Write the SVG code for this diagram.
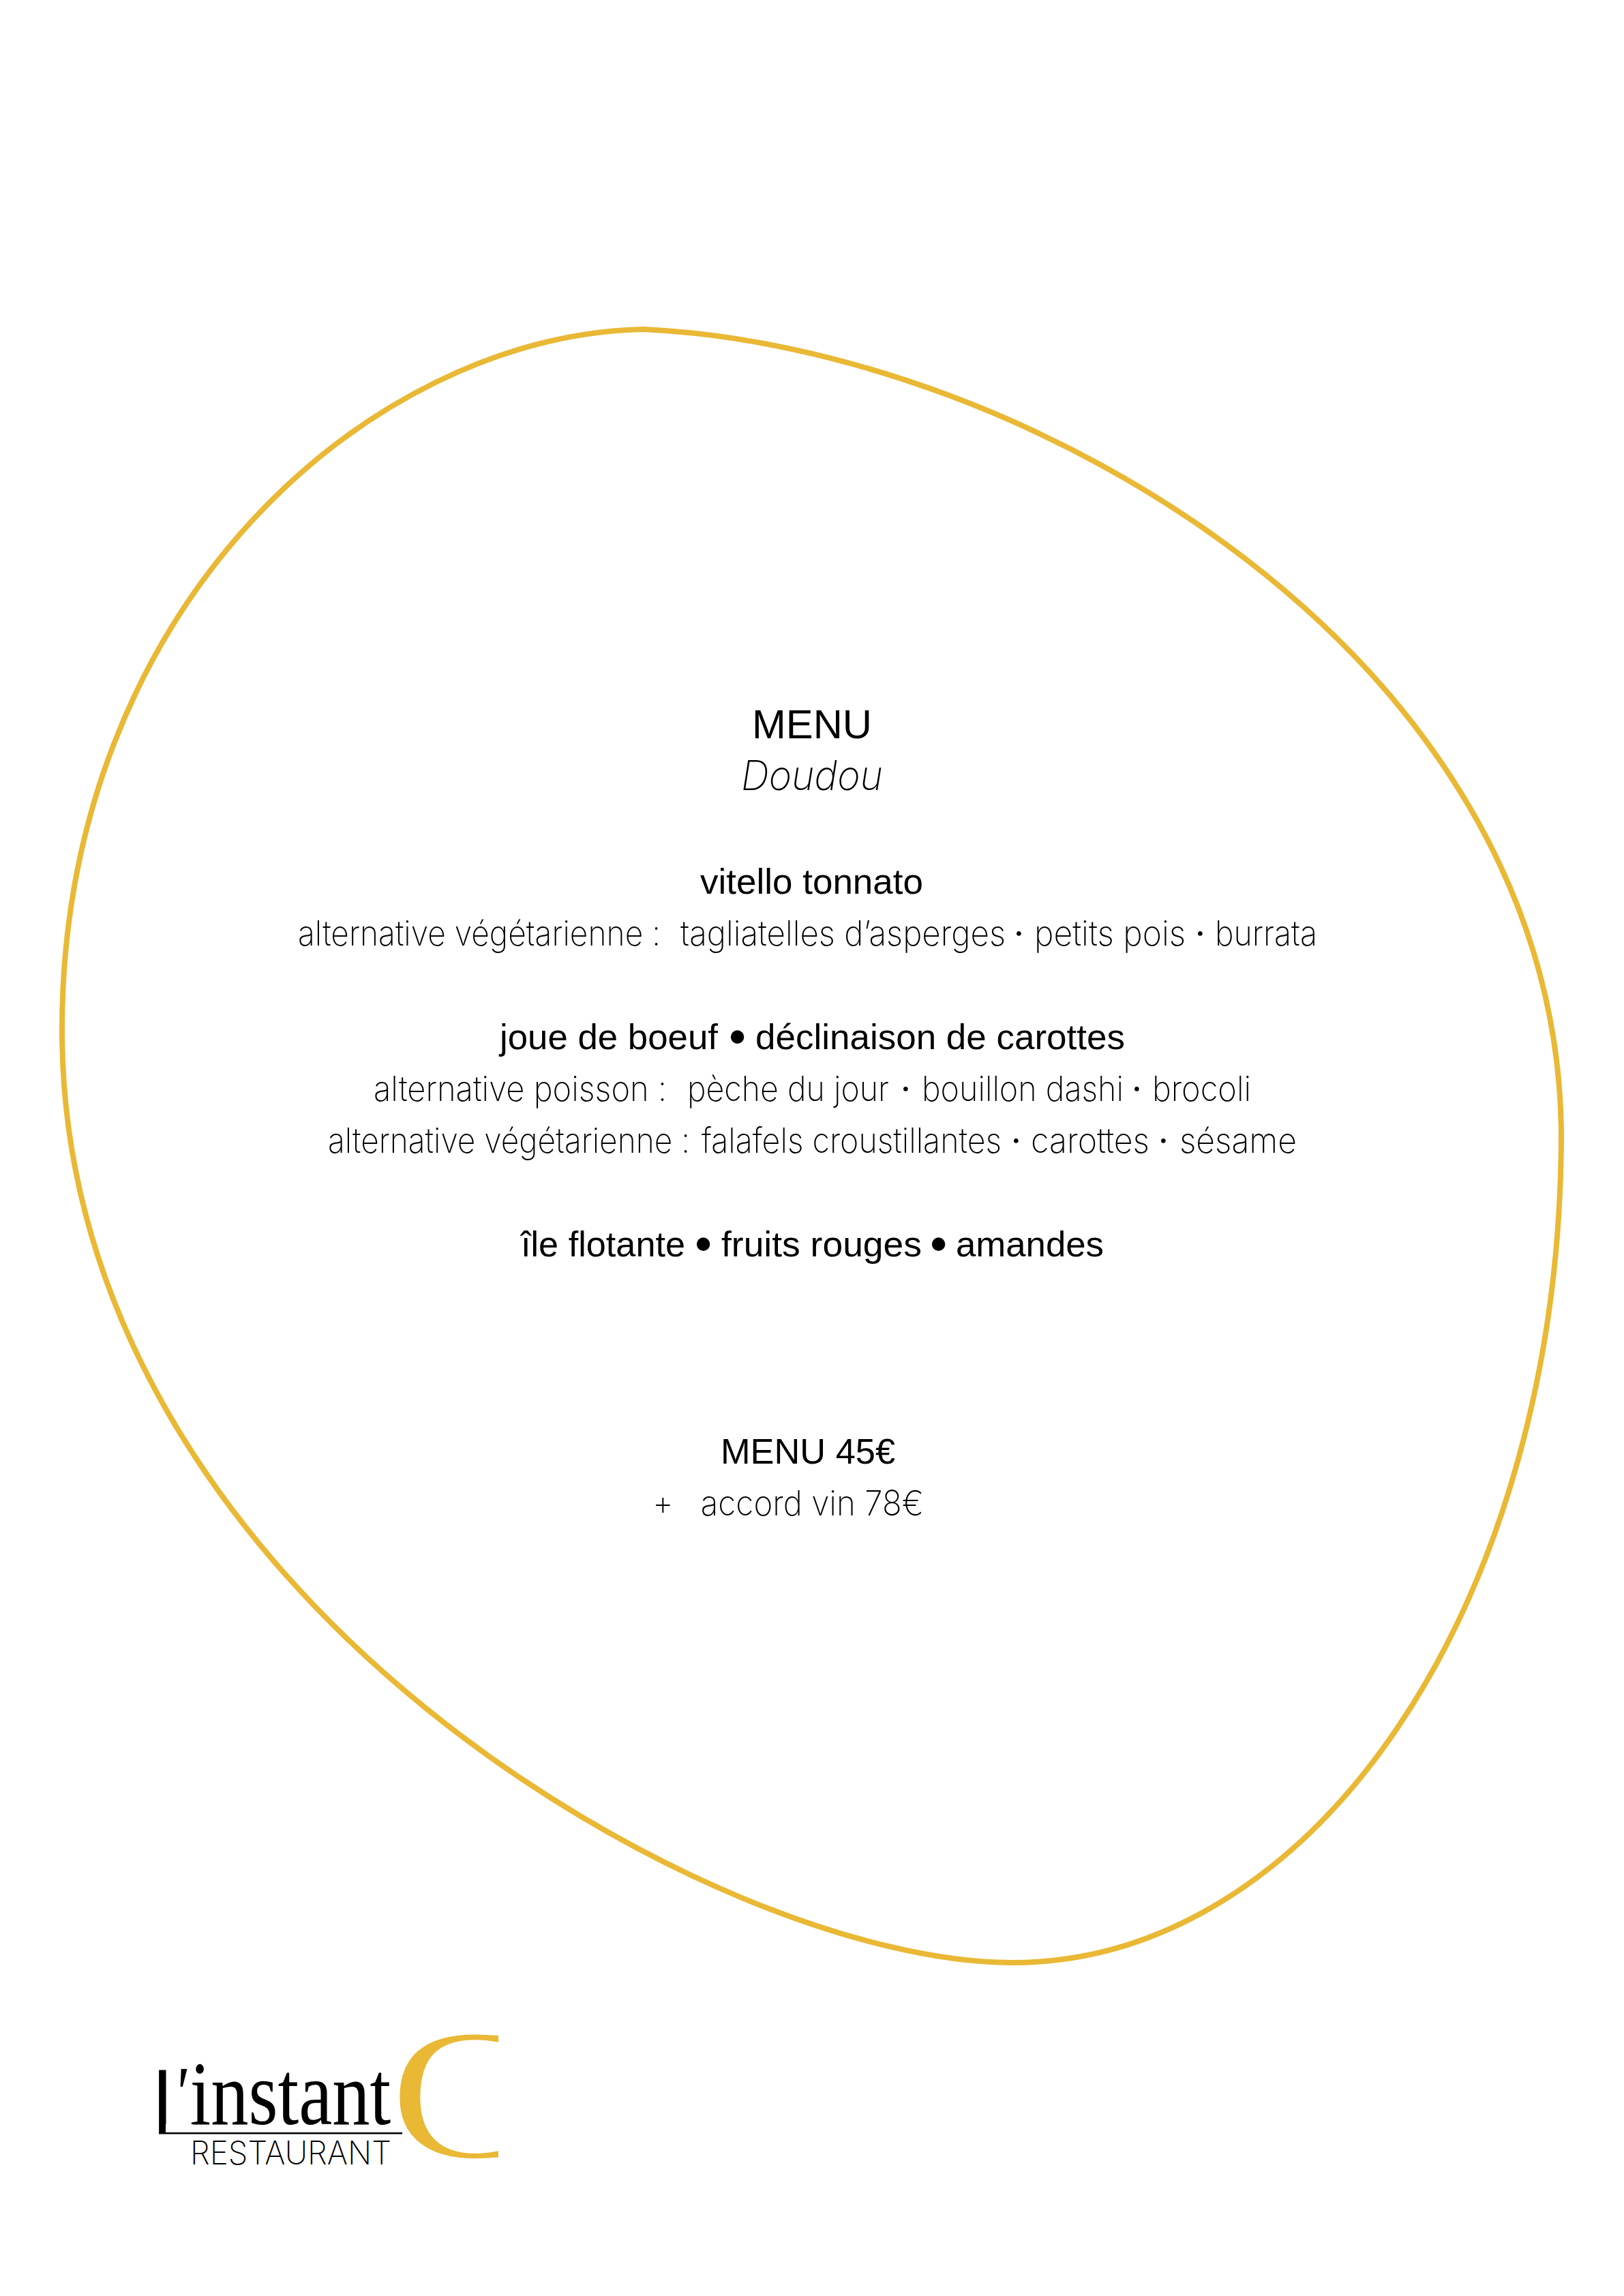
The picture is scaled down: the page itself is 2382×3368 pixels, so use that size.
<svg xmlns="http://www.w3.org/2000/svg" width="2382" height="3368" viewBox="0 0 2382 3368">
<style>
text{fill:#000;white-space:pre}
.r{font-family:"Liberation Sans",Arial,sans-serif;font-size:52px}
.l{font-family:Inter,"Liberation Sans",sans-serif;font-weight:200;font-size:51px}
.b{font-size:72px}
.d{font-weight:400}
.gold{stroke:#e9b835;stroke-width:8;fill:none}
</style>
<defs><clipPath id="cclip"><rect x="570" y="2970" width="161" height="210"/></clipPath></defs>
<rect width="2382" height="3368" fill="#fff"/>
<g id="blob"><path class="gold" d="M944 483C1509 510 2282 960 2290 1660C2290 2350 1929 2879 1484 2879C1050 2879 91 2340 91 1511C91 891 540 492 944 483Z"/></g>
<g id="menu-text">
<text class="r" x="1103" y="1083" style="font-size:60px" textLength="176" lengthAdjust="spacingAndGlyphs">MENU</text>
<text class="l" x="1087" y="1159" style="font-size:60px;font-style:italic" textLength="208" lengthAdjust="spacingAndGlyphs">Doudou</text>
<text class="r" x="1027" y="1311" textLength="327" lengthAdjust="spacingAndGlyphs">vitello tonnato</text>
<text class="l" y="1387"><tspan x="437" textLength="532" lengthAdjust="spacingAndGlyphs">alternative végétarienne :</tspan>  <tspan x="998" textLength="477" lengthAdjust="spacingAndGlyphs">tagliatelles d’asperges</tspan> <tspan class="d" x="1487">·</tspan> <tspan x="1517" textLength="222" lengthAdjust="spacingAndGlyphs">petits pois</tspan> <tspan class="d" x="1753">·</tspan> <tspan x="1782" textLength="150" lengthAdjust="spacingAndGlyphs">burrata</tspan></text>
<text class="r" y="1539"><tspan x="733" textLength="320" lengthAdjust="spacingAndGlyphs">joue de boeuf</tspan> <tspan class="b" x="1069" dy="6">•</tspan> <tspan x="1108" dy="-6" textLength="542" lengthAdjust="spacingAndGlyphs">déclinaison de carottes</tspan></text>
<text class="l" y="1615"><tspan x="548" textLength="430" lengthAdjust="spacingAndGlyphs">alternative poisson :</tspan>  <tspan x="1008" textLength="296" lengthAdjust="spacingAndGlyphs">pèche du jour</tspan> <tspan class="d" x="1321">·</tspan> <tspan x="1352" textLength="296" lengthAdjust="spacingAndGlyphs">bouillon dashi</tspan> <tspan class="d" x="1660">·</tspan> <tspan x="1690" textLength="145" lengthAdjust="spacingAndGlyphs">brocoli</tspan></text>
<text class="l" y="1691"><tspan x="481" textLength="531" lengthAdjust="spacingAndGlyphs">alternative végétarienne :</tspan> <tspan x="1029" textLength="440" lengthAdjust="spacingAndGlyphs">falafels croustillantes</tspan> <tspan class="d" x="1483">·</tspan> <tspan x="1512" textLength="174" lengthAdjust="spacingAndGlyphs">carottes</tspan> <tspan class="d" x="1699">·</tspan> <tspan x="1730" textLength="172" lengthAdjust="spacingAndGlyphs">sésame</tspan></text>
<text class="r" y="1843"><tspan x="764" textLength="241" lengthAdjust="spacingAndGlyphs">île flotante</tspan> <tspan class="b" x="1019" dy="6">•</tspan> <tspan x="1058" dy="-6" textLength="294" lengthAdjust="spacingAndGlyphs">fruits rouges</tspan> <tspan class="b" x="1364" dy="6">•</tspan> <tspan x="1402" dy="-6" textLength="217" lengthAdjust="spacingAndGlyphs">amandes</tspan></text>
<text class="r" x="1057" y="2147" textLength="256" lengthAdjust="spacingAndGlyphs">MENU 45€</text>
<text class="l" x="957" y="2223" textLength="398" lengthAdjust="spacingAndGlyphs">+   accord vin 78€</text>
</g>
<g id="logo">
<g clip-path="url(#cclip)"><text id="logo-c" transform="translate(571 3165) scale(1.2 1)" style="font-family:'Liberation Serif',serif;font-size:275px;fill:#e9b835;stroke:#fff;stroke-width:3">C</text></g>
<text id="logo-name" transform="translate(224 3116) scale(.825 1)" style="font-family:'Liberation Serif',serif;font-size:134px"><tspan style="font-family:'Liberation Sans',sans-serif;font-size:135px" dy="14">L</tspan><tspan x="36" y="-9" style="font-style:italic;font-size:110px">'</tspan><tspan x="66" y="0">instant</tspan></text>
<rect x="243" y="3116" width="40" height="13" fill="#fff"/>
<rect x="233" y="3128" width="357" height="2.5"/>
<text class="l" x="279" y="3175" textLength="295" lengthAdjust="spacingAndGlyphs" style="font-size:48px">RESTAURANT</text>
</g>
</svg>
